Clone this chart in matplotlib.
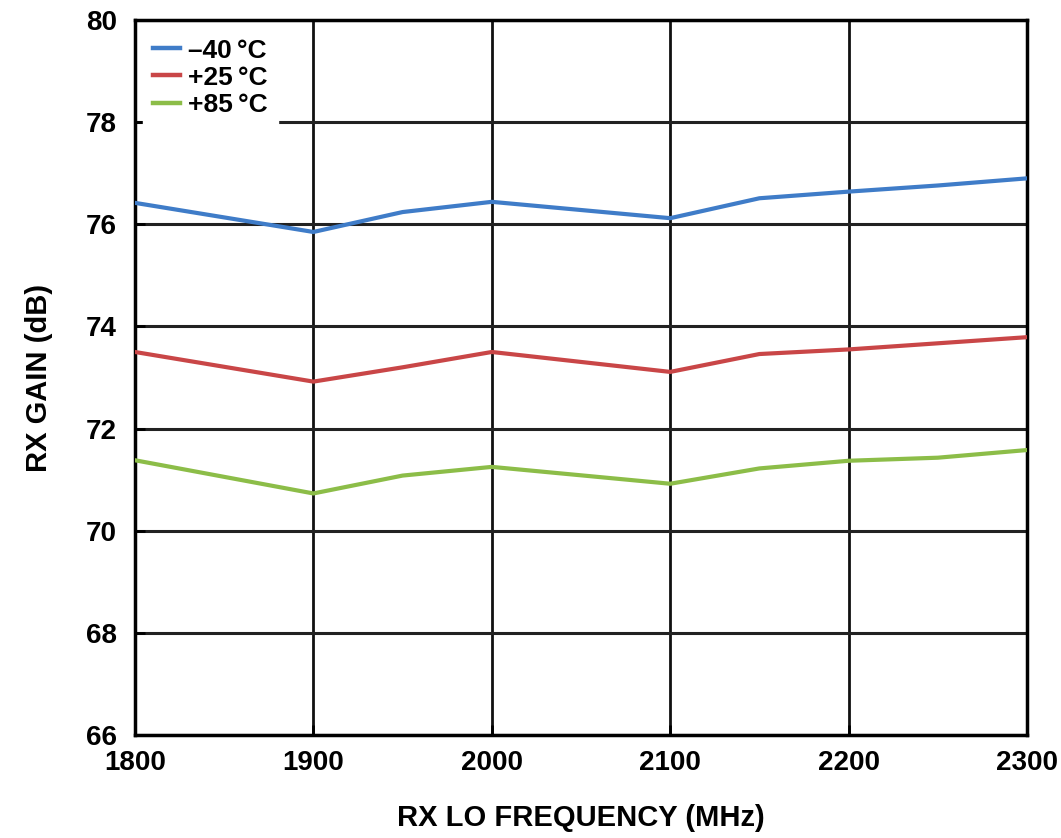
import matplotlib.pyplot as plt

plt.rcParams['font.family'] = ['Liberation Sans', 'DejaVu Sans']
plt.rcParams['font.weight'] = 'bold'

# RX gain vs LO frequency, one curve per temperature
freq_mhz = [1800, 1900, 1950, 2000, 2100, 2150, 2200, 2250, 2300]
gain_m40 = [76.42, 75.85, 76.24, 76.44, 76.12, 76.51, 76.64, 76.76, 76.90]
gain_p25 = [73.50, 72.92, 73.20, 73.50, 73.11, 73.46, 73.55, 73.67, 73.79]
gain_p85 = [71.38, 70.73, 71.08, 71.25, 70.92, 71.22, 71.37, 71.43, 71.58]

labels = ['\u201340\u2009°C', '+25\u2009°C', '+85\u2009°C']
colors = ['#3f7cc8', '#c94647', '#8cbd48']

x_ticks = [1800, 1900, 2000, 2100, 2200, 2300]
y_ticks = [66, 68, 70, 72, 74, 76, 78, 80]

fig = plt.figure(figsize=(10.61, 8.38), dpi=100)
ax = fig.add_axes([0.1272, 0.1229, 0.8408, 0.8532])

# grid drawn by hand so the legend box can sit over it
for xv in x_ticks:
    ax.axvline(xv, color='#111111', lw=2.0, zorder=1)
for yv in y_ticks:
    ax.axhline(yv, color='#222222', lw=2.2, zorder=1)

for gain, lab, col in zip([gain_m40, gain_p25, gain_p85], labels, colors):
    ax.plot(freq_mhz, gain, color=col, lw=3.0, label=lab, zorder=3,
            solid_joinstyle='miter')

ax.set_xlim(1800, 2300)
ax.set_ylim(66, 80)
ax.set_xticks(x_ticks)
ax.set_yticks(y_ticks)
ax.tick_params(direction='in', length=7, width=2, labelsize=20)
ax.tick_params(axis='y', pad=13)
ax.tick_params(axis='x', pad=11)
for sp in ax.spines.values():
    sp.set_linewidth(2.5)

ax.set_xlabel('RX LO FREQUENCY (MHz)', fontsize=21, fontweight='bold', labelpad=20)
ax.set_ylabel('RX GAIN (dB)', fontsize=21, fontweight='bold', labelpad=24)

leg = ax.legend(loc='upper left', bbox_to_anchor=(0.0, 1.0), frameon=True,
                fancybox=False, edgecolor='white', framealpha=1.0,
                fontsize=19, handlelength=1.0, handletextpad=0.3,
                labelspacing=0.12, borderpad=0.4, borderaxespad=0.3)
leg.set_zorder(2)
for line in leg.get_lines():
    line.set_linewidth(3.2)

fig.savefig('out.png', dpi=100)
